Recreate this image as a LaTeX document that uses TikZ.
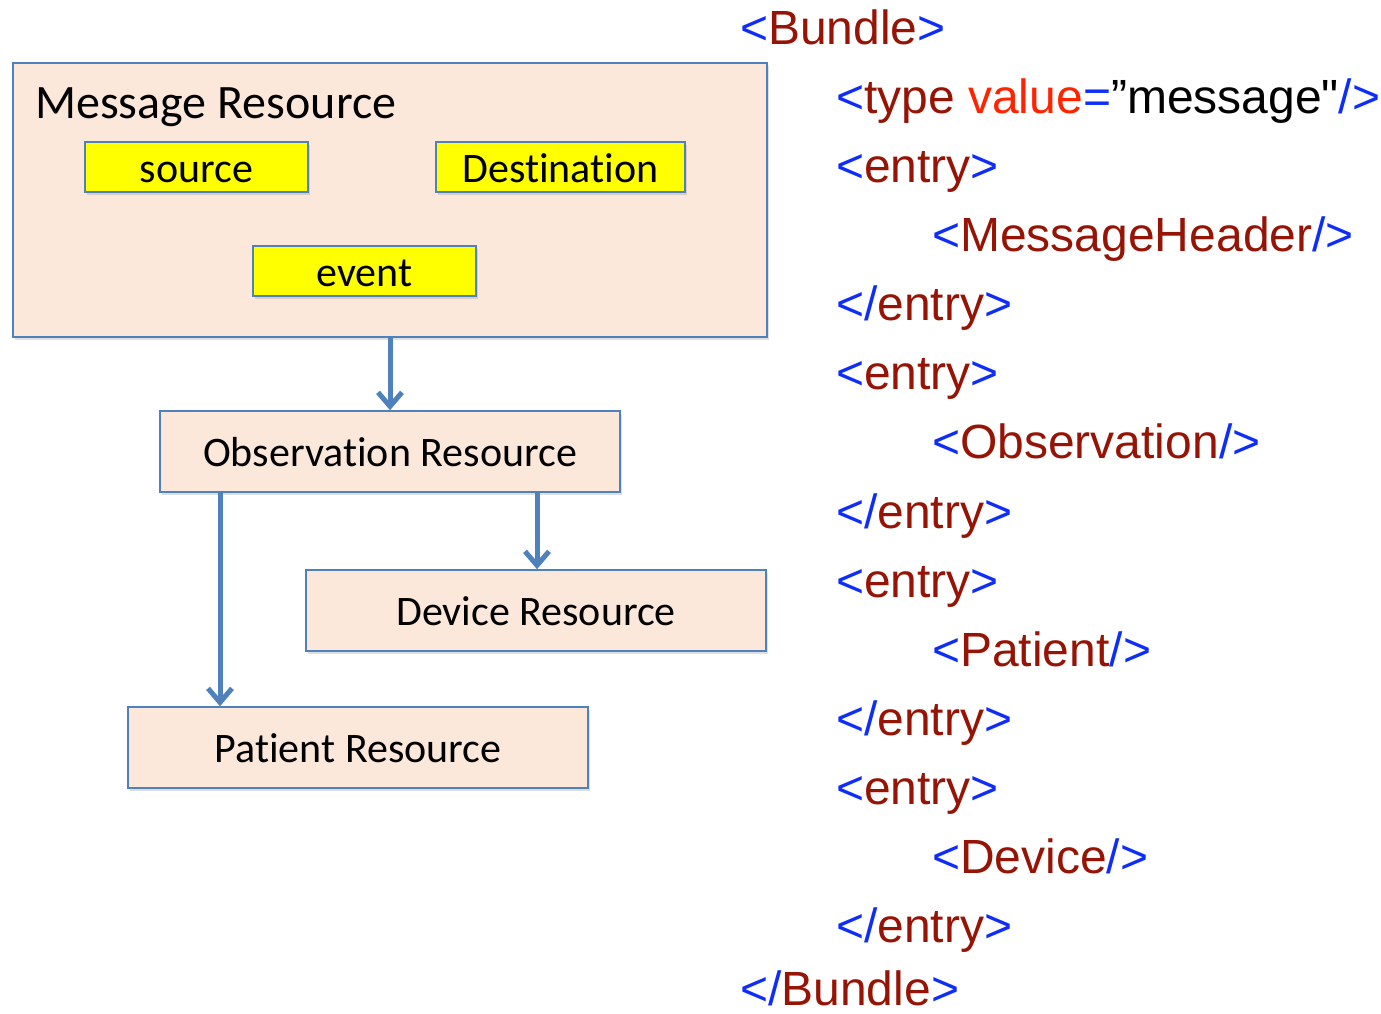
\documentclass[tikz,border=0pt]{standalone}
\usepackage{fontspec}
\setmainfont[Ligatures=NoCommon]{Carlito}
\newfontfamily\xmlfont{Liberation Sans}
\usetikzlibrary{arrows.meta,shadows}
\definecolor{boxfill}{RGB}{252,232,218}
\definecolor{boxline}{RGB}{79,129,189}
\definecolor{yel}{RGB}{255,255,0}
\definecolor{xblue}{RGB}{15,45,250}
\definecolor{xred}{RGB}{150,20,5}
\definecolor{xval}{RGB}{255,35,0}
\newcommand{\xo}[1]{\textcolor{xblue}{<}\textcolor{xred}{#1}\textcolor{xblue}{>}}
\newcommand{\xc}[1]{\textcolor{xblue}{</}\textcolor{xred}{#1}\textcolor{xblue}{>}}
\newcommand{\xe}[1]{\textcolor{xblue}{<}\textcolor{xred}{#1}\textcolor{xblue}{/>}}
\begin{document}
\begin{tikzpicture}[x=1pt,y=-1pt,
  shad/.style={drop shadow={opacity=0.25,shadow xshift=2pt,shadow yshift=-3pt}},
  resbox/.style={draw=boxline,line width=1.6pt,fill=boxfill,shad,inner sep=0pt,
    font=\fontsize{42}{50}\selectfont,text height=29pt,text depth=0pt},
  ybox/.style={draw=boxline,line width=1.6pt,fill=yel,shad,inner sep=0pt,
    minimum width=223pt,minimum height=50pt,
    font=\fontsize{42}{50}\selectfont,text height=30pt,text depth=0pt},
  arr/.style={draw=boxline,line width=5pt,-{Straight Barb[length=14pt,width=24pt]}},
  xml/.style={anchor=base west,inner sep=0pt,font=\xmlfont\fontsize{48}{57}\selectfont}]
\useasboundingbox (0,0) rectangle (1381,1013);
% left diagram
\node[resbox,minimum width=754pt,minimum height=274pt] (msg) at (390,200) {};
\node[anchor=base west,inner sep=0pt,font=\fontsize{48}{57}\selectfont] (msgtitle) at (35,118) {Message Resource};
\node[ybox] (source) at (196.5,167) {source};
\node[ybox,minimum width=249pt] (dest) at (560.5,167) {Destination};
\node[ybox] (event) at (364.5,271) {event};
\node[resbox,minimum width=460pt,minimum height=81pt] (obs) at (390,451.5) {Observation Resource};
\node[resbox,minimum width=460pt,minimum height=81pt] (dev) at (536,610.5) {Device Resource};
\node[resbox,minimum width=460pt,minimum height=81pt] (pat) at (358,747.5) {Patient Resource};
\draw[arr] (msg.south) -- (obs.north);
\draw[arr] ([xshift=-170pt]obs.south) -- ([xshift=-170pt]obs.south |- pat.north);
\draw[arr] ([xshift=147pt]obs.south) -- ([xshift=147pt]obs.south |- dev.north);
% XML
\node[xml] (l1) at (740,44) {\xo{Bundle}};
\node[xml] (l2) at (836,113.1) {\textcolor{xblue}{<}\textcolor{xred}{type} \textcolor{xval}{value}\textcolor{xblue}{=}”message"\textcolor{xblue}{/>}};
\node[xml] (l3) at (836,182.3) {\xo{entry}};
\node[xml] (l4) at (932,251.4) {\xe{MessageHeader}};
\node[xml] (l5) at (836,320.6) {\xc{entry}};
\node[xml] (l6) at (836,389.7) {\xo{entry}};
\node[xml] (l7) at (932,458.8) {\xe{Observation}};
\node[xml] (l8) at (836,528) {\xc{entry}};
\node[xml] (l9) at (836,597.1) {\xo{entry}};
\node[xml] (l10) at (932,666.3) {\xe{Patient}};
\node[xml] (l11) at (836,735.4) {\xc{entry}};
\node[xml] (l12) at (836,804.5) {\xo{entry}};
\node[xml] (l13) at (932,873.7) {\xe{Device}};
\node[xml] (l14) at (836,942.8) {\xc{entry}};
\node[xml] (l15) at (740,1005) {\xc{Bundle}};
\end{tikzpicture}
\end{document}
